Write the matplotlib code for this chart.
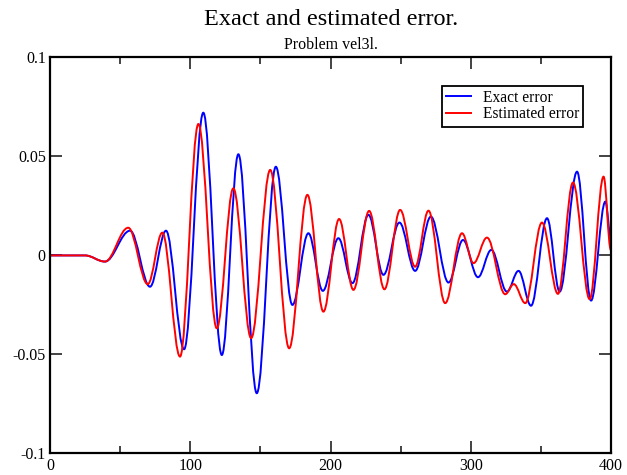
import matplotlib
matplotlib.use("Agg")
import matplotlib.pyplot as plt
from matplotlib.path import Path
from matplotlib.patches import PathPatch
from matplotlib.lines import Line2D

# Extrema (x, value)
exact_x = [0, 25, 39.2, 57.1, 71.3, 82.7, 95.6, 109.3, 122.5, 134.3, 147.4, 161.0,
           172.8, 184.2, 194.5, 205.6, 215.6, 227.0, 237.7, 249.1, 260.3, 271.5,
           284.1, 294.4, 305.1, 314.6, 325.7, 334.0, 342.9, 354.3, 363.3, 375.7,
           385.7, 395.9, 399.8]
exact_y = [0, 0, -0.0031, 0.0125, -0.0158, 0.0125, -0.0474, 0.0721, -0.0503, 0.0511,
           -0.0696, 0.0448, -0.0250, 0.0112, -0.0179, 0.0087, -0.0140, 0.0205,
           -0.0098, 0.0166, -0.0078, 0.0196, -0.0137, 0.0078, -0.0110, 0.0028,
           -0.0183, -0.0078, -0.0254, 0.0188, -0.0183, 0.0423, -0.0228, 0.0272, 0.0087]

est_x = [0, 25, 39.2, 55.8, 69.7, 80.1, 92.7, 105.8, 118.9, 130.7, 143.4, 157.0,
         170.5, 183.5, 194.9, 206.1, 216.3, 227.5, 238.4, 249.6, 260.3, 269.8,
         281.7, 293.7, 301.9, 311.5, 324.5, 330.6, 338.8, 350.7, 362.1, 372.8,
         384.7, 394.6, 399.8]
est_y = [0, 0, -0.0031, 0.0140, -0.0145, 0.0115, -0.0511, 0.0664, -0.0368, 0.0339,
         -0.0418, 0.0432, -0.0469, 0.0306, -0.0284, 0.0184, -0.0174, 0.0225,
         -0.0171, 0.0230, -0.0057, 0.0226, -0.0241, 0.0112, -0.0039, 0.0090,
         -0.0196, -0.0145, -0.0241, 0.0166, -0.0194, 0.0368, -0.0221, 0.0398, 0.0028]

labels = ["Exact error", "Estimated error"]
colors = ["#0000ff", "#ff0000"]

xticks = [0, 100, 200, 300, 400]
xticklabels = ["0", "100", "200", "300", "400"]
yticks = [-0.1, -0.05, 0, 0.05, 0.1]
yticklabels = ["-0.1", "-0.05", "0", "0.05", "0.1"]

title = "Exact and estimated error."
subtitle = "Problem vel3l."

plt.rcParams['font.family'] = ['Liberation Serif', 'DejaVu Serif']

fig = plt.figure(figsize=(6.27, 4.75), dpi=100)
ax = fig.add_axes([0.0797, 0.0455, 0.895, 0.8335])


def smooth_path(xs, ys, k=0.3642):
    verts = [(xs[0], ys[0])]
    codes = [Path.MOVETO]
    for i in range(len(xs) - 1):
        x0, y0, x1, y1 = xs[i], ys[i], xs[i + 1], ys[i + 1]
        dx = x1 - x0
        verts += [(x0 + k * dx, y0), (x1 - k * dx, y1), (x1, y1)]
        codes += [Path.CURVE4] * 3
    return Path(verts, codes)


for xs, ys, c in [(exact_x, exact_y, colors[0]), (est_x, est_y, colors[1])]:
    ax.add_patch(PathPatch(smooth_path(xs, ys), facecolor='none', edgecolor=c,
                           linewidth=1.4, zorder=2))

ax.set_xlim(0, 400)
ax.set_ylim(-0.1, 0.1)
ax.set_xticks(xticks)
ax.set_xticklabels(xticklabels)
ax.set_yticks(yticks)
ax.set_yticklabels(yticklabels)
ax.set_xticks([50, 150, 250, 350], minor=True)

ax.tick_params(axis='both', which='major', direction='in', length=8.5, width=1.2,
               labelsize=11.5, top=True, right=True, color='#222222')
ax.tick_params(axis='x', which='minor', direction='in', length=4.8, width=1.2,
               top=True, color='#222222')
ax.tick_params(axis='x', which='major', pad=3.5)
ax.tick_params(axis='y', which='major', pad=3)
for s in ax.spines.values():
    s.set_linewidth(1.6)

fig.text(0.528, 0.947, title, ha='center', va='baseline', fontsize=17.5)
fig.text(0.528, 0.897, subtitle, ha='center', va='baseline', fontsize=11.5)

handles = [Line2D([], [], color=c, linewidth=1.4) for c in colors]
leg = ax.legend(handles, labels, loc='upper left', bbox_to_anchor=(0.698, 0.929),
                borderaxespad=0, fontsize=11.2, handlelength=1.6, handletextpad=0.75,
                borderpad=0.28, labelspacing=0.02, fancybox=False, framealpha=1,
                edgecolor='black')
leg.get_frame().set_linewidth(1.3)

fig.savefig("out.png", dpi=100)
